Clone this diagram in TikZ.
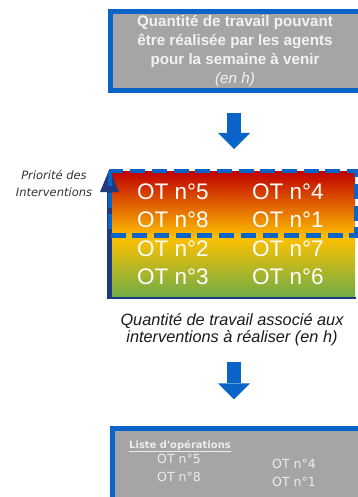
\documentclass[tikz,border=0pt]{standalone}
\usepackage{fontspec}
\setmainfont{Liberation Sans}
\newfontfamily\smallsans{DejaVu Sans}
\usetikzlibrary{arrows.meta}
\definecolor{boxblue}{HTML}{0A64C8}
\definecolor{boxgray}{HTML}{A5A5A5}
\definecolor{navy}{HTML}{1F3B80}
\definecolor{ored}{HTML}{C00000}
\definecolor{oyellow}{HTML}{FFC000}
\definecolor{ogreen}{HTML}{70AD47}
\definecolor{textwhite}{HTML}{F2F2F2}
\definecolor{listwhite}{HTML}{EDEDED}
\definecolor{labelgray}{HTML}{333333}
\definecolor{labeldark}{HTML}{1A1A1A}
\tikzset{
  grayfill/.style={fill=boxgray, inner sep=0pt, outer sep=0pt},
  boxedge/.style={draw=boxblue, line cap=rect},
  bigarrow/.style={draw=boxblue, line width=14pt, -{Triangle[width=32pt,length=16pt,line width=0pt]}},
  bigot/.style={font=\fontsize{22.5}{27}\selectfont, text=white, inner sep=0pt},
  smallot/.style={font=\smallsans\fontsize{12.5}{14}\selectfont, text=listwhite, inner sep=0pt, anchor=base west},
  dashline/.style={draw=boxblue, line width=4.5pt, dash pattern=on 15pt off 6.7pt},
}
\begin{document}
\begin{tikzpicture}[x=1pt,y=-1pt]
\useasboundingbox (0,0) rectangle (358,497);
\fill[white] (0,0) rectangle (358,497);
\clip (0,0) rectangle (358,497);
% top box (open on the right, cut by the frame)
\node[grayfill, minimum width=252pt, minimum height=78.4pt] (topbox) at (236.8,51) {};
\draw[boxedge, line width=5pt] (topbox.north east) -- (topbox.north west) -- (topbox.south west) -- (topbox.south east);
\node[align=center, text=textwhite, font=\fontsize{15.2}{18.7}\selectfont\bfseries, inner sep=0pt] (toptext) at (235,51) {Quantité de travail pouvant\\être réalisée par les agents\\pour la semaine à venir\\{\mdseries\itshape (en h)}};
% gradient block
\node[inner sep=0pt, outer sep=0pt, minimum width=244pt, minimum height=126pt] (grad) at (233,234) {};
\shade[top color=ored, bottom color=oyellow] (111,171) rectangle (355,237.5);
\shade[top color=oyellow, bottom color=ogreen] (111,237) rectangle (355,297);
\draw[navy, line width=2pt] (108,297.5) -- (356,297.5);
\draw[navy, line width=5pt, -{Triangle[width=19pt,length=23pt,line width=0pt]}] (109.5,299) -- (109.5,169);
\draw[dashline] (110,171) rectangle (356,235.5);
\node[bigot] (ot5) at (173,192) {OT n°5};
\node[bigot] (ot4) at (288,192) {OT n°4};
\node[bigot] (ot8) at (173,220) {OT n°8};
\node[bigot] (ot1) at (288,220) {OT n°1};
\node[bigot] (ot2) at (173,249) {OT n°2};
\node[bigot] (ot7) at (288,249) {OT n°7};
\node[bigot] (ot3) at (173,277) {OT n°3};
\node[bigot] (ot6) at (288,277) {OT n°6};
% labels
\node[font=\smallsans\itshape\fontsize{11.5}{17}\selectfont, text=labelgray, align=center, inner sep=0pt] (prio) at (54,183.5) {Priorité des\\Interventions};
\node[font=\itshape\fontsize{16.3}{17}\selectfont, text=labeldark, align=center, inner sep=0pt] (qlabel) at (232,329.5) {Quantité de travail associé aux\\interventions à réaliser (en h)};
% bottom box (cut by the frame on the right and bottom)
\node[grayfill, minimum width=250pt, minimum height=75pt] (botbox) at (237.25,465.75) {};
\draw[boxedge, line width=4.5pt] (botbox.south west) -- (botbox.north west) -- (botbox.north east);
\node[font=\smallsans\bfseries\fontsize{10}{13}\selectfont, text=listwhite, anchor=base west, inner sep=0pt] (listhead) at (129,448) {\underline{Liste d'opérations}};
\node[smallot] (b5) at (157,463) {OT n°5};
\node[smallot] (b8) at (157,481.7) {OT n°8};
\node[smallot] (b4) at (272,468.3) {OT n°4};
\node[smallot] (b1) at (272,486.7) {OT n°1};
% connectors
\coordinate (arx) at (234,0);
\draw[bigarrow, shorten <=23pt, shorten >=22pt] (topbox.south -| arx) -- (grad.north -| arx);
\draw[bigarrow, shorten <=65pt, shorten >=29pt] (grad.south -| arx) -- (botbox.north -| arx);
\end{tikzpicture}
\end{document}
